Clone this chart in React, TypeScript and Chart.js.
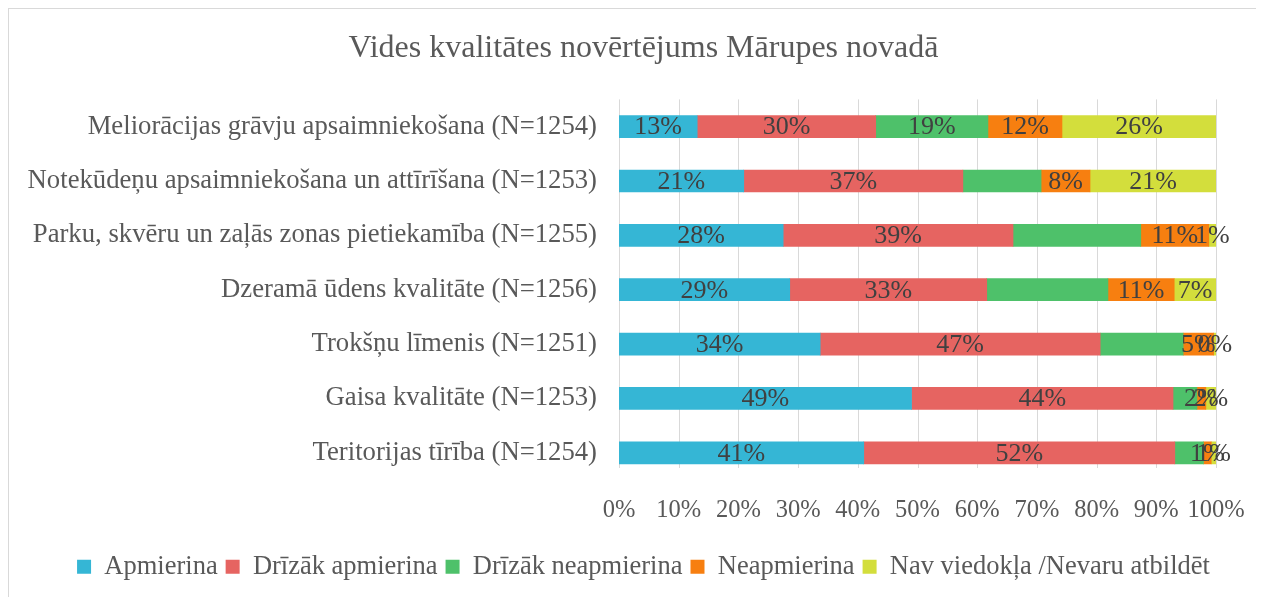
import React, { useEffect, useRef } from "react";
import { Chart, registerables } from "chart.js";

Chart.register(...registerables);

const TITLE = "Vides kvalitātes novērtējums Mārupes novadā";

const CATEGORIES = [
  "Meliorācijas grāvju apsaimniekošana (N=1254)",
  "Notekūdeņu apsaimniekošana un attīrīšana (N=1253)",
  "Parku, skvēru un zaļās zonas pietiekamība (N=1255)",
  "Dzeramā ūdens kvalitāte (N=1256)",
  "Trokšņu līmenis (N=1251)",
  "Gaisa kvalitāte (N=1253)",
  "Teritorijas tīrība (N=1254)",
];

const SERIES_NAMES = [
  "Apmierina",
  "Drīzāk apmierina",
  "Drīzāk neapmierina",
  "Neapmierina",
  "Nav viedokļa /Nevaru atbildēt",
];

const COLORS = ["#35B6D5", "#E66461", "#4EC16A", "#F77F10", "#D3DE3C"];

// segment shares (%)
const APMIERINA = [13.1, 20.9, 27.5, 28.6, 33.7, 49.0, 41.0];
const DRIZAK_APMIERINA = [29.9, 36.7, 38.5, 33.0, 46.9, 43.8, 52.1];
const DRIZAK_NEAPMIERINA = [18.8, 13.1, 21.4, 20.3, 13.9, 4.0, 4.8];
const NEAPMIERINA = [12.4, 8.2, 11.4, 11.1, 5.1, 1.5, 1.3];
const NAV_VIEDOKLA = [25.8, 21.1, 1.2, 7.0, 0.4, 1.7, 0.8];

// data labels as printed on the chart (null = not shown)
const LBL_APMIERINA = [13, 21, 28, 29, 34, 49, 41];
const LBL_DRIZAK_APMIERINA = [30, 37, 39, 33, 47, 44, 52];
const LBL_DRIZAK_NEAPMIERINA = [19, null, null, null, null, null, null];
const LBL_NEAPMIERINA = [12, 8, 11, 11, 5, 2, 1];
const LBL_NAV_VIEDOKLA = [26, 21, 1, 7, 0, 2, 1];

const X_TICKS = [0, 10, 20, 30, 40, 50, 60, 70, 80, 90, 100];

const SERIES_VALUES = [APMIERINA, DRIZAK_APMIERINA, DRIZAK_NEAPMIERINA, NEAPMIERINA, NAV_VIEDOKLA];
const SERIES_LABELS = [LBL_APMIERINA, LBL_DRIZAK_APMIERINA, LBL_DRIZAK_NEAPMIERINA, LBL_NEAPMIERINA, LBL_NAV_VIEDOKLA];

const FONT = '"Liberation Serif", "Times New Roman", serif';
const TEXT = "#595959";

const gridPlugin = {
  id: "excelGrid",
  beforeDatasetsDraw(chart: any) {
    const { ctx, chartArea } = chart;
    const xScale = chart.scales.x;
    ctx.save();
    ctx.strokeStyle = "#D9D9D9";
    ctx.lineWidth = 1;
    X_TICKS.forEach((v) => {
      const px = Math.round(xScale.getPixelForValue(v)) + 0.5;
      ctx.beginPath();
      ctx.moveTo(px, chartArea.top);
      ctx.lineTo(px, chartArea.bottom - 12);
      ctx.stroke();
    });
    ctx.restore();
  },
};

const labelPlugin = {
  id: "segLabels",
  afterDatasetsDraw(chart: any) {
    const ctx = chart.ctx;
    ctx.save();
    ctx.font = `26px ${FONT}`;
    ctx.fillStyle = "#404040";
    ctx.textAlign = "center";
    ctx.textBaseline = "middle";
    chart.data.datasets.forEach((_ds: any, i: number) => {
      const meta = chart.getDatasetMeta(i);
      const labels = SERIES_LABELS[i];
      meta.data.forEach((el: any, j: number) => {
        const t = labels[j];
        if (t === null || t === undefined) return;
        const p = el.getProps(["x", "y", "base"], true);
        ctx.fillText(`${t}%`, (p.x + p.base) / 2, p.y + 1);
      });
    });
    ctx.restore();
  },
};

export default function App() {
  const ref = useRef<HTMLCanvasElement | null>(null);

  useEffect(() => {
    if (!ref.current) return;
    const chart = new Chart(ref.current, {
      type: "bar",
      data: {
        labels: CATEGORIES,
        datasets: SERIES_NAMES.map((name, i) => ({
          label: name,
          data: SERIES_VALUES[i],
          backgroundColor: COLORS[i],
          borderWidth: 0,
          barThickness: 22,
        })),
      },
      options: {
        indexAxis: "y",
        responsive: false,
        animation: false,
        layout: { padding: { left: 14, right: 0, top: 0, bottom: 7 } },
        plugins: {
          title: {
            display: true,
            text: TITLE,
            color: TEXT,
            font: { family: FONT, size: 32, weight: "normal" },
            padding: { top: 20, bottom: 32 },
          },
          legend: {
            position: "bottom",
            labels: {
              color: TEXT,
              font: { family: FONT, size: 26.5 },
              boxWidth: 14,
              boxHeight: 14,
              padding: 8,
            },
          },
          tooltip: { enabled: false },
        },
        scales: {
          x: {
            stacked: true,
            min: 0,
            max: 100,
            afterFit: (s: any) => {
              s.height = 65.5;
            },
            afterBuildTicks: (s: any) => {
              s.ticks = X_TICKS.map((v) => ({ value: v }));
            },
            ticks: {
              color: TEXT,
              font: { family: FONT, size: 24.5 },
              padding: 16,
              maxRotation: 0,
              minRotation: 0,
              autoSkip: false,
              callback: (v: any) => `${v}%`,
            },
            grid: { display: false, drawTicks: false },
            border: { display: false },
          },
          y: {
            stacked: true,
            afterFit: (s: any) => {
              s.width = 596;
            },
            ticks: {
              color: TEXT,
              font: { family: FONT, size: 26.7 },
              padding: 22,
            },
            grid: { display: false, drawTicks: false },
            border: { display: false },
          },
          yRight: {
            axis: "y",
            position: "right",
            display: true,
            afterFit: (s: any) => {
              s.width = 48;
            },
            ticks: { display: false },
            grid: { display: false, drawTicks: false },
            border: { display: false },
          },
        },
      },
      plugins: [gridPlugin, labelPlugin],
    } as any);
    return () => chart.destroy();
  }, []);

  return (
    <div
      style={{
        width: 1256,
        height: 589,
        boxSizing: "border-box",
        borderLeft: "1px solid #D9D9D9",
        borderTop: "1px solid #D9D9D9",
        background: "#fff",
        overflow: "hidden",
      }}
    >
      <canvas ref={ref} width={1255} height={588} style={{ display: "block" }} />
    </div>
  );
}
